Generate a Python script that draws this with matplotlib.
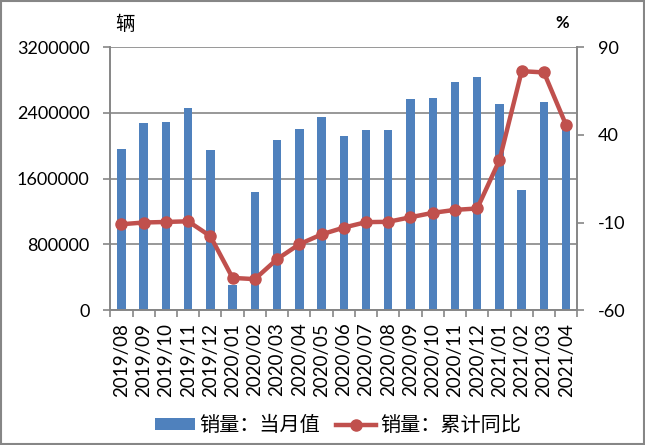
import matplotlib
matplotlib.use("Agg")
import matplotlib.pyplot as plt
from matplotlib.patches import Rectangle

plt.rcParams['font.family'] = ['Lato', 'Noto Sans CJK SC', 'DejaVu Sans']

months = ["2019/08", "2019/09", "2019/10", "2019/11", "2019/12", "2020/01", "2020/02",
          "2020/03", "2020/04", "2020/05", "2020/06", "2020/07", "2020/08", "2020/09",
          "2020/10", "2020/11", "2020/12", "2021/01", "2021/02", "2021/03", "2021/04"]
sales = [1960000, 2275000, 2287000, 2458000, 1947000, 304000, 1436000,
         2068000, 2202000, 2348000, 2117000, 2190000, 2190000, 2567000,
         2579000, 2774000, 2835000, 2506000, 1460000, 2531000, 2245000]
yoy = [-11.0, -10.0, -9.7, -9.3, -17.8, -41.6, -42.3,
       -30.9, -22.4, -16.8, -12.9, -9.8, -9.6, -7.0,
       -4.5, -2.8, -2.0, 25.5, 76.3, 75.6, 45.5]
left_ticks = [0, 800000, 1600000, 2400000, 3200000]
right_ticks = [-60, -10, 40, 90]

bar_color = "#4F81BD"
line_color = "#C0504D"
grid_color = "#868686"

fig = plt.figure(figsize=(6.45, 4.45), dpi=100)
ax = fig.add_axes([0.171, 0.303, 0.724, 0.591])
ax2 = ax.twinx()

x = list(range(len(months)))
bars = ax.bar(x, sales, width=0.38, color=bar_color, zorder=2, label="销量：当月值")
ax.set_ylim(0, 3200000)
ax.set_xlim(-0.5, len(months) - 0.5)
ax.set_yticks(left_ticks)
ax.set_yticklabels([str(v) for v in left_ticks], fontsize=13)
ax.grid(axis='y', color=grid_color, linewidth=1.2, zorder=0)
ax.set_axisbelow(True)
ax.set_xticks(x)
ax.set_xticklabels(months, rotation=90, fontsize=13.5)
ax.set_xticks([i - 0.5 for i in range(len(months) + 1)], minor=True)
ax.tick_params(axis='x', which='major', length=0, pad=9)
ax.tick_params(axis='x', which='minor', length=5, color=grid_color, width=1.2, direction='out')
ax.tick_params(axis='y', length=5, color=grid_color, width=1.2, direction='out', pad=10)

line, = ax2.plot(x, yoy, color=line_color, linewidth=3.2, marker='o', markersize=8,
                 zorder=3, label="销量：累计同比")
ax2.set_ylim(-60, 90)
ax2.set_yticks(right_ticks)
ax2.set_yticklabels([str(v) for v in right_ticks], fontsize=13)
ax2.tick_params(axis='y', length=5, color=grid_color, width=1.2, direction='out', pad=10)

for a in (ax, ax2):
    a.spines['top'].set_visible(False)
    for s in ('left', 'right', 'bottom'):
        a.spines[s].set_color(grid_color)
        a.spines[s].set_linewidth(1.2)

fig.text(0.194, 0.944, "辆", fontsize=14, family=['Noto Sans CJK SC'], va='center', ha='center')
fig.text(0.872, 0.948, "%", fontsize=12, fontweight='bold', va='center', ha='center')

fig.legend(handles=[bars, line], labels=["销量：当月值", "销量：累计同比"],
           loc='center', bbox_to_anchor=(0.524, 0.043), ncol=2, frameon=False,
           prop={'family': ['Noto Sans CJK SC'], 'size': 14.5},
           handlelength=2.0, handleheight=0.5, handletextpad=0.2, columnspacing=0.8)

fig.add_artist(Rectangle((0.0015, 0.002), 0.997, 0.996, transform=fig.transFigure,
                         fill=False, edgecolor=grid_color, linewidth=1.5))

fig.savefig("out.png", dpi=100)
